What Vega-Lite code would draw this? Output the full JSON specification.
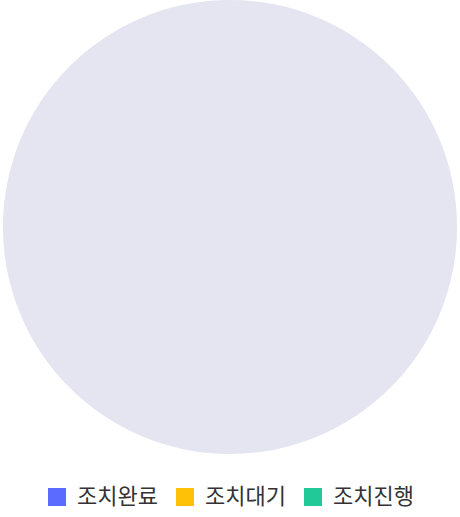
{
  "$schema": "https://vega.github.io/schema/vega-lite/v6.json",
  "width": 460,
  "height": 448,
  "padding": 0,
  "background": "white",
  "config": {
    "view": {"stroke": null},
    "font": "Noto Sans CJK KR",
    "legend": {"layout": {"bottom": {"anchor": "middle"}}}
  },
  "layer": [
    {
      "data": {"values": [{"v": 1}]},
      "mark": {"type": "arc", "outerRadius": 227, "fill": "#E5E5F2", "stroke": null},
      "encoding": {"theta": {"field": "v", "type": "quantitative"}}
    },
    {
      "data": {"values": [
        {"status": "조치완료", "count": 0},
        {"status": "조치대기", "count": 0},
        {"status": "조치진행", "count": 0}
      ]},
      "mark": {"type": "arc", "outerRadius": 227},
      "encoding": {
        "theta": {"field": "count", "type": "quantitative"},
        "color": {
          "field": "status",
          "type": "nominal",
          "sort": ["조치완료", "조치대기", "조치진행"],
          "scale": {"domain": ["조치완료", "조치대기", "조치진행"], "range": ["#5C6BFF", "#FFC107", "#20C997"]},
          "legend": {
            "title": null,
            "orient": "bottom",
            "direction": "horizontal",
            "offset": 35,
            "symbolType": "square",
            "symbolSize": 324,
            "symbolStrokeWidth": 0,
            "symbolOpacity": 1,
            "labelFontSize": 22,
            "labelLimit": 400,
            "labelColor": "#333333",
            "labelOffset": 9,
            "columnPadding": 16,
            "labelFont": "Noto Sans CJK KR"
          }
        }
      }
    }
  ]
}
